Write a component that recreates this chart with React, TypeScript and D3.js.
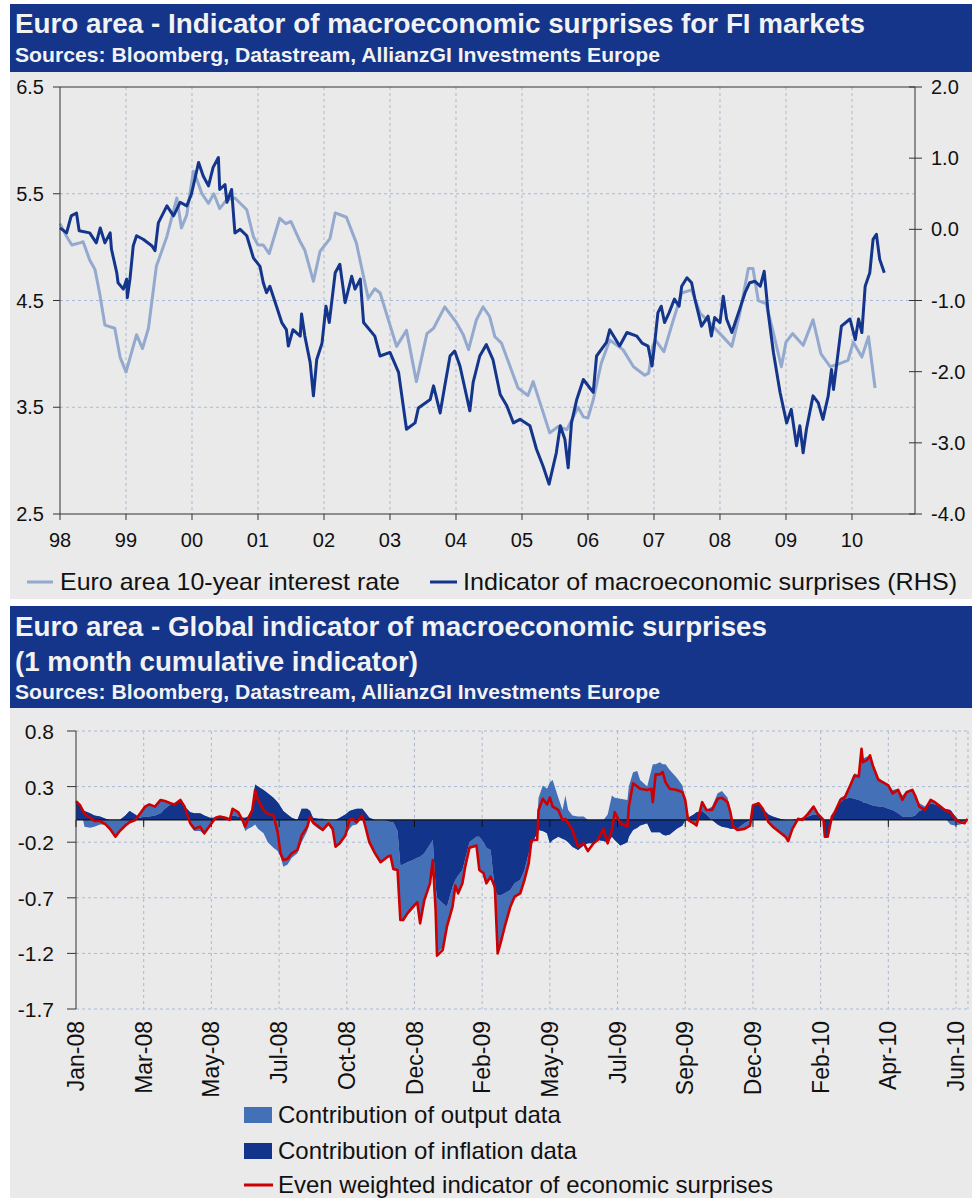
import React from "react";
import * as d3 from "d3";

const FONT = "'Liberation Sans', Arial, Helvetica, sans-serif";

// ---------- Top chart data ----------
const rateYears = [
  1998.0, 1998.1, 1998.18, 1998.3, 1998.35, 1998.45, 1998.53, 1998.6, 1998.68, 1998.83,
  1998.91, 1999.0, 1999.16, 1999.25, 1999.34, 1999.46, 1999.62, 1999.77, 1999.84, 1999.92,
  2000.02, 2000.07, 2000.15, 2000.25, 2000.33, 2000.42, 2000.52, 2000.65, 2000.83, 2000.93,
  2001.0, 2001.08, 2001.17, 2001.33, 2001.42, 2001.5, 2001.64, 2001.71, 2001.84, 2001.94,
  2002.09, 2002.17, 2002.34, 2002.49, 2002.67, 2002.77, 2002.85, 2003.1, 2003.25, 2003.4,
  2003.56, 2003.66, 2003.83, 2004.01, 2004.11, 2004.19, 2004.31, 2004.41, 2004.51, 2004.59,
  2004.69, 2004.94, 2005.09, 2005.17, 2005.42, 2005.55, 2005.68, 2005.85, 2005.93, 2006.0,
  2006.08, 2006.2, 2006.33, 2006.53, 2006.69, 2006.86, 2006.92, 2006.98, 2007.02, 2007.15,
  2007.28, 2007.42, 2007.57, 2007.7, 2007.8, 2008.0, 2008.18, 2008.3, 2008.43, 2008.5,
  2008.58, 2008.7, 2008.8, 2008.93, 2009.0, 2009.1, 2009.26, 2009.41, 2009.53, 2009.67,
  2009.82, 2009.94, 2010.02, 2010.15, 2010.25, 2010.35,
];
const rateValues = [
  5.22, 5.1, 5.02, 5.04, 5.05, 4.88, 4.79, 4.57, 4.27, 4.24,
  3.97, 3.83, 4.18, 4.05, 4.24, 4.82, 5.1, 5.46, 5.18, 5.3,
  5.71, 5.64, 5.5, 5.41, 5.5, 5.36, 5.44, 5.46, 5.35, 5.1,
  5.02, 5.02, 4.94, 5.27, 5.22, 5.24, 5.05, 4.97, 4.68, 4.96,
  5.08, 5.32, 5.28, 5.04, 4.52, 4.61, 4.57, 4.07, 4.22, 3.74,
  4.19, 4.24, 4.44, 4.29, 4.18, 4.04, 4.32, 4.44, 4.35, 4.16,
  4.1, 3.68, 3.61, 3.74, 3.26, 3.32, 3.29, 3.5, 3.41, 3.4,
  3.57, 3.91, 4.13, 4.04, 3.88, 3.8, 3.82, 4.07, 4.13, 4.02,
  4.29, 4.57, 4.6, 4.38, 4.32, 4.19, 4.07, 4.38, 4.8, 4.8,
  4.5, 4.47, 4.22, 3.88, 4.11, 4.19, 4.08, 4.32, 4.0, 3.88,
  3.91, 3.94, 4.11, 3.97, 4.16, 3.68,
];

const surpriseYears = [
  1998.0, 1998.1, 1998.17, 1998.25, 1998.29, 1998.45, 1998.55, 1998.61, 1998.68, 1998.76,
  1998.78, 1998.86, 1998.88, 1998.96, 1999.01, 1999.02, 1999.06, 1999.11, 1999.16, 1999.26,
  1999.39, 1999.44, 1999.49, 1999.62, 1999.72, 1999.82, 1999.92, 1999.99, 2000.1, 2000.17,
  2000.25, 2000.32, 2000.4, 2000.42, 2000.5, 2000.53, 2000.6, 2000.65, 2000.73, 2000.83,
  2000.93, 2001.03, 2001.08, 2001.13, 2001.18, 2001.28, 2001.36, 2001.43, 2001.46, 2001.53,
  2001.64, 2001.66, 2001.71, 2001.79, 2001.84, 2001.89, 2001.97, 2002.03, 2002.08, 2002.17,
  2002.24, 2002.32, 2002.42, 2002.47, 2002.55, 2002.6, 2002.77, 2002.85, 2003.0, 2003.13,
  2003.25, 2003.38, 2003.43, 2003.61, 2003.66, 2003.76, 2003.83, 2003.91, 2003.98, 2004.06,
  2004.21, 2004.26, 2004.36, 2004.46, 2004.56, 2004.67, 2004.77, 2004.87, 2004.97, 2005.12,
  2005.22, 2005.32, 2005.41, 2005.52, 2005.58, 2005.65, 2005.7, 2005.75, 2005.83, 2005.93,
  2006.08, 2006.13, 2006.28, 2006.33, 2006.48, 2006.59, 2006.74, 2006.82, 2006.91, 2006.97,
  2007.0, 2007.06, 2007.11, 2007.16, 2007.23, 2007.31, 2007.38, 2007.42, 2007.5, 2007.57,
  2007.62, 2007.72, 2007.82, 2007.87, 2007.92, 2008.0, 2008.05, 2008.1, 2008.18, 2008.3,
  2008.38, 2008.45, 2008.53, 2008.61, 2008.67, 2008.73, 2008.81, 2008.91, 2009.01, 2009.08,
  2009.16, 2009.21, 2009.26, 2009.31, 2009.41, 2009.49, 2009.56, 2009.64, 2009.69, 2009.72,
  2009.84, 2009.97, 2010.05, 2010.1, 2010.15, 2010.2, 2010.27, 2010.32, 2010.37, 2010.42,
  2010.49,
];
const surpriseValues = [
  0.02, -0.05, 0.19, 0.23, -0.02, -0.05, -0.19, 0.02, -0.19, -0.05,
  -0.28, -0.61, -0.75, -0.84, -0.7, -0.96, -0.7, -0.23, -0.09, -0.14,
  -0.23, -0.3, 0.09, 0.33, 0.19, 0.38, 0.33, 0.49, 0.94, 0.75,
  0.61, 0.87, 1.01, 0.56, 0.63, 0.38, 0.56, -0.05, 0.0, -0.09,
  -0.4, -0.52, -0.75, -0.89, -0.8, -1.08, -1.31, -1.41, -1.64, -1.41,
  -1.5, -1.19, -1.5, -1.87, -2.34, -1.83, -1.6, -1.08, -1.31, -0.61,
  -0.49, -1.03, -0.66, -0.84, -0.7, -1.31, -1.5, -1.78, -1.73, -2.01,
  -2.81, -2.72, -2.51, -2.39, -2.2, -2.58, -2.2, -1.78, -1.71, -1.92,
  -2.55, -2.15, -1.78, -1.62, -1.83, -2.32, -2.48, -2.72, -2.67, -2.76,
  -3.09, -3.33, -3.58, -3.14, -2.76, -2.95, -3.35, -2.72, -2.39, -2.11,
  -2.29, -1.78, -1.59, -1.41, -1.64, -1.45, -1.5, -1.6, -1.64, -1.92,
  -1.69, -1.17, -1.08, -1.31, -1.17, -0.98, -1.08, -0.8, -0.68, -0.75,
  -0.98, -1.36, -1.22, -1.5, -1.24, -1.31, -0.94, -1.26, -1.45, -1.12,
  -0.89, -0.75, -0.73, -0.8, -0.59, -1.17, -1.73, -2.29, -2.72, -2.53,
  -3.04, -2.76, -3.14, -2.81, -2.34, -2.44, -2.67, -2.34, -1.97, -2.25,
  -1.36, -1.26, -1.55, -1.26, -1.45, -0.8, -0.61, -0.14, -0.07, -0.42,
  -0.61,
];

const topYearTicks = [1998, 1999, 2000, 2001, 2002, 2003, 2004, 2005, 2006, 2007, 2008, 2009, 2010];
const leftTicks = [6.5, 5.5, 4.5, 3.5, 2.5];
const rightTicks = [2, 1, 0, -1, -2, -3, -4];

// ---------- Bottom chart data (observation index, business days) ----------
const obsIndex = [
  0, 3, 6, 10, 13, 17, 21, 24, 28, 31,
  35, 38, 42, 45, 49, 52, 56, 60, 63, 67,
  70, 74, 77, 81, 84, 88, 91, 95, 99, 102,
  106, 109, 111, 115, 118, 120, 122, 125, 127, 129,
  133, 136, 140, 143, 145, 147, 150, 153, 157, 160,
  164, 166, 168, 172, 175, 179, 182, 184, 187, 191,
  194, 196, 199, 203, 205, 208, 212, 216, 221, 223,
  225, 228, 230, 232, 235, 239, 242, 244, 247, 251,
  253, 255, 256, 260, 263, 267, 269, 271, 274, 276,
  279, 284, 286, 289, 291, 294, 297, 299, 301, 304,
  308, 311, 315, 318, 321, 323, 327, 328, 331, 334,
  336, 338, 342, 345, 347, 349, 352, 356, 360, 363,
  367, 370, 374, 377, 380, 382, 386, 391, 392, 395,
  398, 400, 405, 408, 409, 411, 414, 416, 418, 421,
  426, 430, 432, 434, 438, 440, 444, 447, 451, 455,
  458, 462, 464, 466, 469, 474, 478, 480, 484, 487,
  491, 494, 499, 503, 505, 508, 512, 515, 519, 523,
  526, 530, 531, 533, 536, 538, 542, 545, 549, 552,
  555, 557, 558, 561, 563, 565, 569, 572, 576, 579,
  583, 586, 589, 593, 595, 598, 602, 606, 609, 613,
  616, 620, 623, 627, 630, 632,
];
const inflationContribution = [
  0.17, 0.12, 0.08, 0.06, 0.04, 0.03, 0.01, 0, 0, 0,
  0.04, 0.08, 0.05, 0.02, 0.03, 0.03, 0.04, 0.06, 0.1, 0.14,
  0.14, 0.17, 0.12, 0.07, 0.06, 0.06, 0.04, 0.02, 0.02, 0.02,
  0.02, 0.02, 0.04, 0.03, 0.02, 0.02, 0.03, 0.1, 0.32, 0.3,
  0.27, 0.24, 0.2, 0.16, 0.12, 0.08, 0.05, 0.02, 0, 0.1,
  0.1, 0.08, 0.02, 0.01, 0.01, 0, 0, 0, 0.02, 0.05,
  0.08, 0.09, 0.1, 0.1, 0.07, 0.02, 0, 0, -0.01, -0.02,
  -0.02, -0.1, -0.41, -0.4, -0.38, -0.36, -0.34, -0.33, -0.3, -0.22,
  -0.18, -0.6, -0.7, -0.75, -0.78, -0.6, -0.54, -0.5, -0.45, -0.35,
  -0.2, -0.15, -0.15, -0.2, -0.25, -0.27, -0.63, -0.68, -0.68, -0.66,
  -0.63, -0.57, -0.54, -0.45, -0.3, -0.22, -0.12, -0.09, -0.1, -0.12,
  -0.21, -0.18, -0.15, -0.17, -0.18, -0.2, -0.24, -0.27, -0.23, -0.21,
  -0.21, -0.18, -0.19, -0.2, -0.15, -0.18, -0.23, -0.2, -0.15, -0.09,
  -0.07, -0.05, -0.03, -0.11, -0.11, -0.11, -0.11, -0.13, -0.14, -0.13,
  -0.08, -0.05, 0, 0.02, 0.05, 0.07, 0.08, 0.05, 0, -0.04,
  -0.06, -0.07, -0.08, -0.08, -0.08, -0.03, 0, 0.13, 0.15, 0.1,
  0.05, 0.03, 0.01, 0, 0, 0, 0.01, 0.02, 0.03, 0.05,
  0.05, 0, -0.15, -0.15, 0.04, 0.07, 0.16, 0.19, 0.2, 0.19,
  0.18, 0.17, 0.16, 0.15, 0.14, 0.13, 0.12, 0.12, 0.1, 0.09,
  0.06, 0.03, 0.03, 0.03, 0.04, 0.08, 0.1, 0.15, 0.14, 0.12,
  0.1, 0.09, 0.04, -0.02, -0.01, 0,
];
const outputContribution = [
  0, 0.01, -0.14, -0.13, -0.1, -0.07, -0.05, -0.08, -0.14, -0.1,
  -0.08, -0.1, -0.05, 0.03, 0.09, 0.11, 0.08, 0.12, 0.07, 0.01,
  0, 0.01, 0, -0.12, -0.16, -0.16, -0.17, -0.08, 0, 0.01,
  0, -0.02, 0.06, 0.04, -0.04, -0.12, -0.11, -0.16, -0.36, -0.38,
  -0.39, -0.44, -0.45, -0.44, -0.45, -0.5, -0.45, -0.36, -0.3, -0.3,
  -0.2, -0.08, -0.06, -0.09, -0.11, -0.05, -0.1, -0.25, -0.24, -0.19,
  -0.16, -0.14, -0.14, -0.08, -0.13, -0.22, -0.3, -0.38, -0.33, -0.31,
  -0.43, -0.36, -0.49, -0.5, -0.47, -0.44, -0.41, -0.6, -0.43, -0.36,
  -0.19, -0.22, -0.5, -0.4, -0.17, -0.18, -0.06, -0.16, -0.12, -0.07,
  -0.06, -0.09, -0.3, -0.29, -0.32, -0.25, -0.02, -0.5, -0.42, -0.29,
  -0.15, -0.12, -0.12, -0.09, -0.09, 0.07, 0.12, 0.29, 0.41, 0.4,
  0.55, 0.54, 0.35, 0.26, 0.4, 0.29, 0.28, 0.3, 0.26, 0.21,
  0.16, 0.16, 0.19, 0.25, 0.37, 0.38, 0.42, 0.38, 0.45, 0.52,
  0.51, 0.41, 0.33, 0.56, 0.61, 0.61, 0.63, 0.63, 0.64, 0.58,
  0.46, 0.36, 0.18, 0, -0.09, -0.12, 0.08, 0.04, 0.12, 0.28,
  0.32, 0.27, 0.16, 0.02, -0.01, -0.05, -0.05, 0, 0, 0,
  -0.07, -0.09, -0.12, -0.15, -0.19, -0.08, 0, -0.02, 0.025, 0.07,
  0, 0, 0, 0, -0.01, 0.01, 0.04, 0.03, 0.13, 0.23,
  0.22, 0.45, 0.39, 0.42, 0.42, 0.37, 0.26, 0.23, 0.22, 0.18,
  0.22, 0.19, 0.23, 0.25, 0.19, 0.07, 0.02, 0.03, 0.02, -0.02,
  -0.08, -0.13, -0.09, -0.02, -0.02, 0.02,
];
const evenWeighted = [
  0.17, 0.13, 0.055, 0.02, -0.01, -0.01, -0.04, -0.08, -0.15, -0.1,
  -0.05, -0.02, 0, 0.05, 0.12, 0.14, 0.12, 0.18, 0.17, 0.15,
  0.14, 0.18, 0.12, -0.03, -0.08, -0.06, -0.12, -0.05, 0.02, 0.03,
  0.02, 0, 0.1, 0.07, 0, -0.06, 0.01, 0.09, 0.27, 0.18,
  0.09, 0.055, 0.04, -0.11, -0.3, -0.36, -0.35, -0.3, -0.27, -0.14,
  -0.06, 0.03, -0.02, -0.06, -0.09, -0.03, -0.08, -0.24, -0.21, -0.14,
  0, 0.01, -0.02, 0.04, -0.05, -0.2, -0.3, -0.38, -0.33, -0.32,
  -0.44, -0.45, -0.9, -0.9, -0.84, -0.78, -0.74, -0.93, -0.72, -0.57,
  -0.36, -0.81, -1.22, -1.17, -0.96, -0.78, -0.59, -0.66, -0.57, -0.42,
  -0.25, -0.23, -0.45, -0.48, -0.57, -0.51, -0.6, -1.2, -1.11, -0.96,
  -0.78, -0.69, -0.66, -0.54, -0.39, -0.18, -0.18, 0.09, 0.19, 0.14,
  0.2, 0.12, 0.09, 0, 0.01, -0.03, -0.09, -0.24, -0.21, -0.28,
  -0.21, -0.18, -0.08, -0.21, -0.09, 0.07, -0.03, -0.06, 0.12, 0.33,
  0.3, 0.28, 0.27, 0.28, 0.16, 0.41, 0.41, 0.43, 0.34, 0.28,
  0.27, 0.25, 0.18, 0, -0.03, -0.05, 0.16, 0.09, 0.09, 0.19,
  0.2, 0.16, 0.07, -0.06, -0.09, -0.08, -0.05, 0.13, 0.15, 0.1,
  -0.02, -0.06, -0.11, -0.15, -0.19, -0.08, 0.01, 0, 0.055, 0.12,
  0.055, 0, -0.15, -0.15, 0.03, 0.07, 0.18, 0.2, 0.31, 0.4,
  0.39, 0.64, 0.52, 0.54, 0.58, 0.49, 0.36, 0.34, 0.31, 0.24,
  0.27, 0.18, 0.25, 0.27, 0.22, 0.12, 0.09, 0.18, 0.16, 0.12,
  0.09, 0.07, 0.01, -0.02, -0.03, 0.01,
];
const bottomTickLabels = [
  "Jan-08", "Mar-08", "May-08", "Jul-08", "Oct-08", "Dec-08", "Feb-09",
  "May-09", "Jul-09", "Sep-09", "Dec-09", "Feb-10", "Apr-10", "Jun-10",
];
const bottomTickEvery = 48;
const bottomLastObs = 632.5;
const bottomYTicks = [0.8, 0.3, -0.2, -0.7, -1.2, -1.7];

// ---------- Colours ----------
const HEADER_BG = "#14358A";
const HEADER_TEXT = "#F2F2F2";
const PANEL_BG = "#EAEAEA";
const GRID = "#A9B9D6";
const LIGHT_LINE = "#93A9CE";
const DARK_LINE = "#14358C";
const OUTPUT_FILL = "#4470B8";
const INFLATION_FILL = "#12348A";
const RED = "#CC0000";

export default function App() {
  // Top chart geometry
  const tL = 60, tR = 915, tT = 87, tB = 514;
  const xTop = d3.scaleLinear().domain([1998, 2010.955]).range([tL, tR]);
  const yLeft = d3.scaleLinear().domain([2.5, 6.5]).range([tB, tT]);
  const yRight = d3.scaleLinear().domain([-4, 2]).range([tB, tT]);

  const rateLine = d3
    .line<number>()
    .x((_, i) => xTop(rateYears[i]))
    .y((d) => yLeft(d));
  const surpriseLine = d3
    .line<number>()
    .x((_, i) => xTop(surpriseYears[i]))
    .y((d) => yRight(d));

  // Bottom chart geometry
  const bL = 76, bR = 968, bT = 731, bB = 1009;
  const xB = d3.scaleLinear().domain([0, bottomLastObs]).range([bL, bR]);
  const yB = d3.scaleLinear().domain([-1.7, 0.8]).range([bB, bT]);

  const n = Math.min(obsIndex.length, inflationContribution.length, outputContribution.length, evenWeighted.length);
  const rows = d3.range(n).map((i) => ({
    idx: obsIndex[i],
    inflation: inflationContribution[i],
    output: outputContribution[i],
    even: evenWeighted[i],
  }));
  const stacked = d3.stack<any>().keys(["inflation", "output"]).offset(d3.stackOffsetNone)(rows);
  const area = d3
    .area<any>()
    .x((d) => xB(d.data.idx))
    .y0((d) => yB(d[0]))
    .y1((d) => yB(d[1]));
  const evenLine = d3
    .line<any>()
    .x((d) => xB(d.idx))
    .y((d) => yB(d.even));

  const bottomTicks = bottomTickLabels.map((_, i) => i * bottomTickEvery);
  const fmt1 = (v: number) => v.toFixed(1);

  return (
    <svg
      width={972}
      height={1198}
      viewBox="0 0 972 1198"
      style={{ position: "absolute", left: 0, top: 0, display: "block", background: "#fff" }}
      fontFamily={FONT}
    >
      {/* ===== Top panel ===== */}
      <rect x={10} y={4} width={962} height={68} fill={HEADER_BG} />
      <text x={15} y={33} fontSize={28} fontWeight="bold" fill={HEADER_TEXT} textLength={850} lengthAdjust="spacingAndGlyphs">
        Euro area - Indicator of macroeconomic surprises for FI markets
      </text>
      <text x={15} y={62} fontSize={21} fontWeight="bold" fill={HEADER_TEXT} textLength={645} lengthAdjust="spacingAndGlyphs">
        Sources: Bloomberg, Datastream, AllianzGI Investments Europe
      </text>
      <rect x={10} y={72} width={962} height={527} fill={PANEL_BG} />

      {/* gridlines */}
      {[5.5, 4.5, 3.5].map((v) => (
        <line key={"hg" + v} x1={tL} x2={tR} y1={yLeft(v)} y2={yLeft(v)} stroke={GRID} strokeWidth={1} strokeDasharray="3,3" />
      ))}
      {topYearTicks.slice(1).map((y) => (
        <line key={"vg" + y} x1={xTop(y)} x2={xTop(y)} y1={tT} y2={tB} stroke={GRID} strokeWidth={1} strokeDasharray="3,3" />
      ))}

      {/* series */}
      <path d={rateLine(rateValues) || ""} fill="none" stroke={LIGHT_LINE} strokeWidth={3} strokeLinejoin="round" />
      <path d={surpriseLine(surpriseValues) || ""} fill="none" stroke={DARK_LINE} strokeWidth={3} strokeLinejoin="round" />

      {/* axes */}
      <line x1={tL} x2={tR} y1={tT} y2={tT} stroke="#333" strokeWidth={1} />
      <line x1={tL} x2={tR} y1={tB} y2={tB} stroke="#333" strokeWidth={1} />
      <line x1={tL} x2={tL} y1={tT} y2={tB} stroke="#333" strokeWidth={1} />
      <line x1={tR} x2={tR} y1={tT} y2={tB} stroke="#333" strokeWidth={1} />
      {leftTicks.map((v) => (
        <g key={"lt" + v}>
          <line x1={tL - 7} x2={tL} y1={yLeft(v)} y2={yLeft(v)} stroke="#333" />
          <text x={44} y={yLeft(v) + 7} fontSize={20} textAnchor="end" fill="#111">
            {fmt1(v)}
          </text>
        </g>
      ))}
      {rightTicks.map((v) => (
        <g key={"rt" + v}>
          <line x1={tR - 6} x2={tR + 7} y1={yRight(v)} y2={yRight(v)} stroke="#333" />
          <text x={931} y={yRight(v) + 7} fontSize={20} textAnchor="start" fill="#111">
            {fmt1(v)}
          </text>
        </g>
      ))}
      {topYearTicks.map((y) => (
        <g key={"xt" + y}>
          <line x1={xTop(y)} x2={xTop(y)} y1={tB} y2={tB + 6} stroke="#333" />
          <text x={xTop(y)} y={547} fontSize={20} textAnchor="middle" fill="#111">
            {String(y).slice(2)}
          </text>
        </g>
      ))}

      {/* legend */}
      <line x1={27} x2={53} y1={582} y2={582} stroke={LIGHT_LINE} strokeWidth={3} />
      <text x={60} y={590} fontSize={24} fill="#111" textLength={340} lengthAdjust="spacingAndGlyphs">
        Euro area 10-year interest rate
      </text>
      <line x1={430} x2={457} y1={582} y2={582} stroke={DARK_LINE} strokeWidth={3} />
      <text x={463} y={590} fontSize={24} fill="#111" textLength={494} lengthAdjust="spacingAndGlyphs">
        Indicator of macroeconomic surprises (RHS)
      </text>

      {/* ===== Bottom panel ===== */}
      <rect x={10} y={606} width={962} height={102} fill={HEADER_BG} />
      <text x={15} y={636} fontSize={28} fontWeight="bold" fill={HEADER_TEXT} textLength={752} lengthAdjust="spacingAndGlyphs">
        Euro area - Global indicator of macroeconomic surprises
      </text>
      <text x={15} y={671} fontSize={28} fontWeight="bold" fill={HEADER_TEXT} textLength={403} lengthAdjust="spacingAndGlyphs">
        (1 month cumulative indicator)
      </text>
      <text x={15} y={699} fontSize={21} fontWeight="bold" fill={HEADER_TEXT} textLength={645} lengthAdjust="spacingAndGlyphs">
        Sources: Bloomberg, Datastream, AllianzGI Investments Europe
      </text>
      <rect x={10} y={708} width={962} height={490} fill={PANEL_BG} />

      {/* gridlines */}
      {bottomYTicks.map((v) => (
        <line key={"bhg" + v} x1={bL} x2={bR} y1={yB(v)} y2={yB(v)} stroke={GRID} strokeWidth={1} strokeDasharray="3,3" />
      ))}
      {[...bottomTicks.slice(1), bottomLastObs].map((t) => (
        <line key={"bvg" + t} x1={xB(t)} x2={xB(t)} y1={bT} y2={bB} stroke={GRID} strokeWidth={1} strokeDasharray="3,3" />
      ))}

      {/* stacked areas: output (stacked on inflation) drawn first, inflation on top */}
      <path d={area(stacked[1] as any) || ""} fill={OUTPUT_FILL} />
      <path d={area(stacked[0] as any) || ""} fill={INFLATION_FILL} />

      {/* zero axis */}
      <line x1={bL} x2={bR} y1={yB(0)} y2={yB(0)} stroke="#111" strokeWidth={1.2} />
      {bottomTicks.map((t) => (
        <line key={"bzt" + t} x1={xB(t)} x2={xB(t)} y1={yB(0)} y2={yB(0) + 7} stroke="#111" />
      ))}

      <path d={evenLine(rows) || ""} fill="none" stroke={RED} strokeWidth={2.6} strokeLinejoin="round" />

      {/* left axis */}
      <line x1={bL} x2={bL} y1={bT} y2={bB} stroke="#333" strokeWidth={1} />
      {bottomYTicks.map((v) => (
        <g key={"byt" + v}>
          <line x1={bL - 9} x2={bL} y1={yB(v)} y2={yB(v)} stroke="#333" />
          <text x={54} y={yB(v) + 8} fontSize={21} textAnchor="end" fill="#111">
            {fmt1(v)}
          </text>
        </g>
      ))}
      {bottomTickLabels.map((lab, i) => (
        <text
          key={"bxl" + lab}
          transform={`translate(${xB(bottomTicks[i])},1021) rotate(-90)`}
          dy="0.35em"
          fontSize={23}
          textAnchor="end"
          fill="#111"
        >
          {lab}
        </text>
      ))}

      {/* legend */}
      <rect x={244} y={1107} width={28} height={16} fill={OUTPUT_FILL} />
      <text x={278} y={1123} fontSize={24} fill="#111">
        Contribution of output data
      </text>
      <rect x={244} y={1143} width={28} height={16} fill={INFLATION_FILL} />
      <text x={278} y={1159} fontSize={24} fill="#111">
        Contribution of inflation data
      </text>
      <line x1={244} x2={273} y1={1185} y2={1185} stroke={RED} strokeWidth={3} />
      <text x={278} y={1193} fontSize={24} fill="#111">
        Even weighted indicator of economic surprises
      </text>
    </svg>
  );
}
